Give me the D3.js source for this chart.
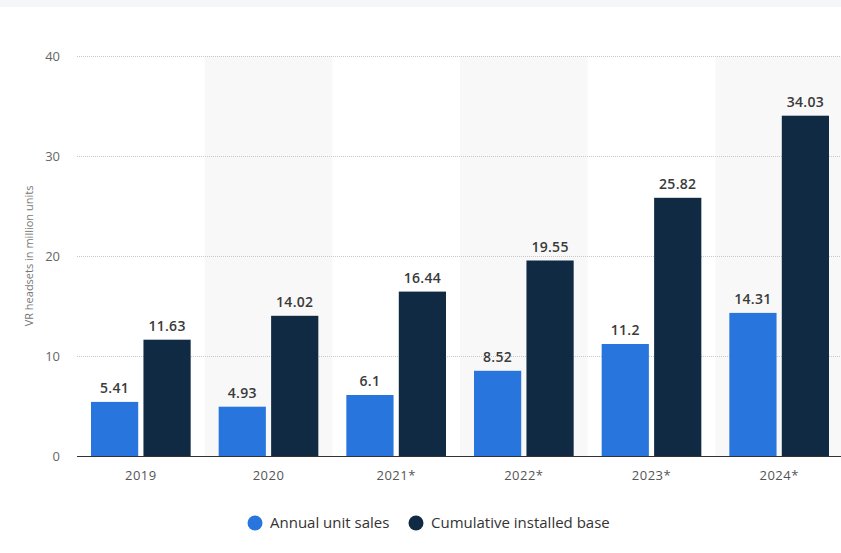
<!DOCTYPE html>
<html>
<head>
<meta charset="utf-8">
<script src="https://cdn.jsdelivr.net/npm/d3@7"></script>
<style>
  body { margin: 0; background: #fff; }
  svg { display: block; font-family: "Open Sans", sans-serif; }
</style>
</head>
<body>
<svg></svg>
<script>
var width = 841;
var height = 553;

// data
var years = ["2019", "2020", "2021*", "2022*", "2023*", "2024*"];
var annualSales = [5.41, 4.93, 6.1, 8.52, 11.2, 14.31];
var installedBase = [11.63, 14.02, 16.44, 19.55, 25.82, 34.03];
var seriesNames = ["Annual unit sales", "Cumulative installed base"];
var yTicks = [0, 10, 20, 30, 40];

var colors = ["#2876dd", "#0f2a42"];

var svg = d3.select("svg")
  .attr("width", width)
  .attr("height", height);

// thin grey strip along the top
svg.append("rect")
  .attr("x", 0).attr("y", 0)
  .attr("width", width).attr("height", 7)
  .attr("fill", "#f4f6f8");

var x = d3.scaleBand()
  .domain(years)
  .range([77, 843]);

var x1 = d3.scaleBand()
  .domain([0, 1])
  .range([14, x.bandwidth() - 14])
  .paddingInner(0.1);

var y = d3.scaleLinear()
  .domain([0, 40])
  .range([456, 56]);

// alternating band shading
svg.append("g").selectAll("rect")
  .data(years.filter(function(d, i){ return i % 2 == 1; }))
  .enter().append("rect")
  .attr("x", function(d){ return x(d); })
  .attr("y", y(40))
  .attr("width", x.bandwidth())
  .attr("height", y(0) - y(40))
  .attr("fill", "#f8f8f8");

// grid
svg.append("g").selectAll("line")
  .data(yTicks.filter(function(d){ return d > 0; }))
  .enter().append("line")
  .attr("x1", 77).attr("x2", 841)
  .attr("y1", function(d){ return y(d) + 0.5; })
  .attr("y2", function(d){ return y(d) + 0.5; })
  .attr("stroke", "#c8c8c8")
  .attr("stroke-dasharray", "1,1");

// y tick labels
svg.append("g").selectAll("text")
  .data(yTicks)
  .enter().append("text")
  .attr("x", 60)
  .attr("y", function(d){ return y(d); })
  .attr("dy", "0.35em")
  .attr("text-anchor", "end")
  .attr("font-size", 13)
  .attr("fill", "#666")
  .text(function(d){ return d; });

svg.append("text")
  .attr("transform", "translate(33,256) rotate(-90)")
  .attr("text-anchor", "middle")
  .attr("font-size", 11)
  .attr("fill", "#777")
  .text("VR headsets in million units");

var series = [annualSales, installedBase];

var groups = svg.append("g").selectAll("g")
  .data(years)
  .enter().append("g")
  .attr("transform", function(d){ return "translate(" + x(d) + ",0)"; });

groups.selectAll("rect")
  .data(function(d, i){ return series.map(function(s, k){ return {k: k, v: s[i]}; }); })
  .enter().append("rect")
  .attr("x", function(d){ return x1(d.k); })
  .attr("width", x1.bandwidth())
  .attr("y", function(d){ return y(d.v); })
  .attr("height", function(d){ return y(0) - y(d.v); })
  .attr("fill", function(d){ return colors[d.k]; });

groups.selectAll("text")
  .data(function(d, i){ return series.map(function(s, k){ return {k: k, v: s[i]}; }); })
  .enter().append("text")
  .attr("x", function(d){ return x1(d.k) + x1.bandwidth() / 2; })
  .attr("y", function(d){ return y(d.v) - 9; })
  .attr("text-anchor", "middle")
  .attr("font-size", 14)
  .attr("font-weight", 600)
  .attr("fill", "#3a3a3a")
  .attr("letter-spacing", "0.3px")
  .text(function(d){ return d.v; });

// baseline
svg.append("line")
  .attr("x1", 77).attr("x2", 841)
  .attr("y1", y(0) + 0.5).attr("y2", y(0) + 0.5)
  .attr("stroke", "#333")
  .attr("stroke-width", 1.2);

// x labels
svg.append("g").selectAll("text")
  .data(years)
  .enter().append("text")
  .attr("x", function(d){ return x(d) + x.bandwidth() / 2; })
  .attr("y", 475)
  .attr("dy", "0.35em")
  .attr("text-anchor", "middle")
  .attr("font-size", 13)
  .attr("fill", "#555")
  .attr("letter-spacing", "0.5px")
  .text(function(d){ return d; });

// legend
var legendX = [255, 416];
var legend = svg.append("g").selectAll("g")
  .data(seriesNames)
  .enter().append("g")
  .attr("transform", function(d, i){ return "translate(" + legendX[i] + ",523)"; });

legend.append("circle")
  .attr("r", 7.5)
  .attr("fill", function(d, i){ return colors[i]; });

legend.append("text")
  .attr("x", 15)
  .attr("dy", "0.35em")
  .attr("font-size", 15)
  .attr("fill", "#333")
  .text(function(d){ return d; });
</script>
</body>
</html>
